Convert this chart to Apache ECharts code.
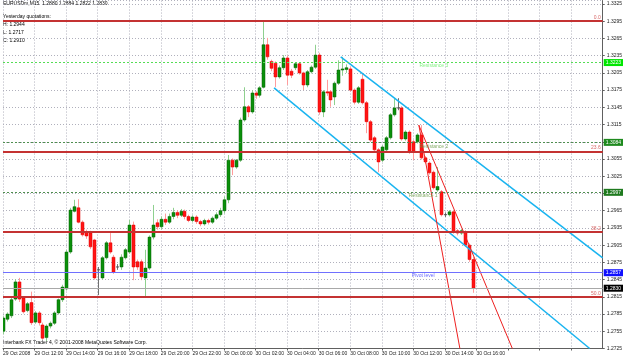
<!DOCTYPE html>
<html><head><meta charset="utf-8">
<script src="https://cdn.jsdelivr.net/npm/echarts@6/dist/echarts.min.js"></script>
<style>html,body{margin:0;padding:0;background:#fff}#c{width:625px;height:360px}</style>
</head><body><div id="c"></div>
<script>
// ---- data ----
const symbolTitle = 'EURUSDm,M15  1.2880 1.2884 1.2822 1.2830';
const infoLines = ['Yesterday quotations:', 'H: 1.2944', 'L: 1.2717', 'C: 1.2910'];
const copyright = 'Interbank FX Trader 4, © 2001-2008 MetaQuotes Software Corp.';
const timeLabels = ['29 Oct 2008','29 Oct 12:00','29 Oct 14:00','29 Oct 16:00','29 Oct 18:00','29 Oct 20:00','29 Oct 22:00','30 Oct 00:00','30 Oct 02:00','30 Oct 04:00','30 Oct 06:00','30 Oct 08:00','30 Oct 10:00','30 Oct 12:00','30 Oct 14:00','30 Oct 16:00'];
// [open, close, low, high] per 15-minute bar
const ohlc = [
[1.2755,1.2778,1.2750,1.2781],[1.2776,1.2785,1.2772,1.2788],[1.2782,1.2810,1.2778,1.2813],[1.2811,1.2841,1.2808,1.2846],
[1.2841,1.2811,1.2806,1.2848],[1.2813,1.2789,1.2786,1.2815],[1.2791,1.2803,1.2788,1.2806],[1.2805,1.2770,1.2766,1.2824],
[1.2771,1.2787,1.2768,1.2790],[1.2787,1.2770,1.2765,1.2790],[1.2766,1.2743,1.2740,1.2770],[1.2744,1.2764,1.2738,1.2767],
[1.2764,1.2769,1.2760,1.2772],[1.2769,1.2787,1.2766,1.2790],[1.2787,1.2810,1.2784,1.2812],[1.2810,1.2832,1.2806,1.2836],
[1.2829,1.2893,1.2826,1.2897],[1.2893,1.2966,1.2890,1.2970],[1.2964,1.2972,1.2962,1.2984],[1.2970,1.2945,1.2943,1.2985],
[1.2945,1.2923,1.2920,1.2948],[1.2928,1.2921,1.2916,1.2932],[1.2926,1.2902,1.2898,1.2930],[1.2914,1.2848,1.2845,1.2916],
[1.2862,1.2862,1.2818,1.2867],[1.2848,1.2883,1.2845,1.2886],[1.2883,1.2909,1.2880,1.2912],[1.2909,1.2893,1.2890,1.2926],
[1.2884,1.2858,1.2855,1.2888],[1.2867,1.2867,1.2862,1.2872],[1.2867,1.2884,1.2862,1.2889],[1.2883,1.2897,1.2880,1.2900],
[1.2893,1.2940,1.2890,1.2949],[1.2940,1.2867,1.2844,1.2946],[1.2876,1.2867,1.2862,1.2880],[1.2876,1.2850,1.2844,1.2880],
[1.2848,1.2865,1.2815,1.2897],[1.2865,1.2919,1.2862,1.2922],[1.2919,1.2940,1.2915,1.2975],[1.2944,1.2937,1.2932,1.2950],
[1.2937,1.2950,1.2932,1.2955],[1.2950,1.2945,1.2940,1.2960],[1.2945,1.2955,1.2942,1.2960],[1.2955,1.2962,1.2950,1.2970],
[1.2962,1.2957,1.2952,1.2966],[1.2957,1.2964,1.2954,1.2968],[1.2964,1.2955,1.2950,1.2967],[1.2955,1.2948,1.2945,1.2958],
[1.2948,1.2954,1.2945,1.2957],[1.2954,1.2946,1.2942,1.2957],[1.2946,1.2942,1.2938,1.2949],[1.2942,1.2948,1.2939,1.2951],
[1.2948,1.2945,1.2941,1.2951],[1.2945,1.2952,1.2942,1.2955],[1.2952,1.2958,1.2949,1.2962],[1.2958,1.2965,1.2954,1.2970],
[1.2965,1.2984,1.2960,1.2990],[1.2984,1.3053,1.2978,1.3062],[1.3053,1.3041,1.3027,1.3056],[1.3041,1.3053,1.3038,1.3055],
[1.3053,1.3123,1.3050,1.3127],[1.3123,1.3146,1.3120,1.3180],[1.3146,1.3137,1.3128,1.3149],[1.3137,1.3170,1.3134,1.3175],
[1.3170,1.3166,1.3160,1.3173],[1.3166,1.3179,1.3162,1.3182],[1.3180,1.3254,1.3178,1.3295],[1.3254,1.3233,1.3228,1.3266],
[1.3225,1.3213,1.3208,1.3228],[1.3222,1.3198,1.3180,1.3225],[1.3198,1.3214,1.3195,1.3218],[1.3214,1.3231,1.3210,1.3236],
[1.3231,1.3201,1.3184,1.3235],[1.3208,1.3201,1.3196,1.3212],[1.3214,1.3221,1.3210,1.3224],[1.3221,1.3205,1.3202,1.3224],
[1.3205,1.3184,1.3175,1.3207],[1.3184,1.3207,1.3180,1.3210],[1.3207,1.3215,1.3204,1.3218],[1.3215,1.3236,1.3212,1.3254],
[1.3236,1.3137,1.3132,1.3240],[1.3137,1.3172,1.3128,1.3175],[1.3172,1.3170,1.3165,1.3193],[1.3172,1.3158,1.3146,1.3175],
[1.3163,1.3187,1.3149,1.3190],[1.3187,1.3210,1.3184,1.3227],[1.3210,1.3212,1.3200,1.3233],[1.3211,1.3214,1.3205,1.3220],
[1.3212,1.3175,1.3172,1.3216],[1.3175,1.3154,1.3150,1.3178],[1.3154,1.3179,1.3151,1.3182],[1.3194,1.3153,1.3150,1.3205],
[1.3153,1.3120,1.3100,1.3156],[1.3120,1.3088,1.3085,1.3123],[1.3092,1.3071,1.3068,1.3095],[1.3071,1.3050,1.3032,1.3074],
[1.3053,1.3076,1.3050,1.3079],[1.3071,1.3092,1.3068,1.3095],[1.3092,1.3132,1.3089,1.3135],[1.3132,1.3144,1.3129,1.3161],
[1.3144,1.3144,1.3140,1.3161],[1.3144,1.3090,1.3087,1.3147],[1.3090,1.3102,1.3087,1.3105],[1.3102,1.3067,1.3064,1.3105],
[1.3085,1.3067,1.3053,1.3088],[1.3085,1.3097,1.3082,1.3100],[1.3097,1.3057,1.3054,1.3114],[1.3057,1.3050,1.3047,1.3060],
[1.3048,1.3031,1.3028,1.3051],[1.3032,1.3005,1.3002,1.3035],[1.3001,1.3007,1.2998,1.3041],[1.2998,1.2958,1.2955,1.3001],
[1.2958,1.2958,1.2954,1.2962],[1.2958,1.2963,1.2955,1.2966],[1.2963,1.2928,1.2925,1.2966],[1.2930,1.2926,1.2922,1.2933],
[1.2926,1.2930,1.2923,1.2933],[1.2928,1.2905,1.2902,1.2931],[1.2905,1.2880,1.2876,1.2908],[1.2880,1.2830,1.2822,1.2884]
];
const fibLevels = [1.3295, 1.3068, 1.2928, 1.2815];
const fibNames = ['0.0', '23.6', '38.2', '50.0'];
const resistanceLevels = [1.3223, 1.3084, 1.2997];
const resistanceNames = ['Resistance 3', 'Resistance 2', 'Resistance 1'];
const pivotLevel = 1.2857;
const bidPrice = 1.2830;
// trend lines: [[barIndex, price], [barIndex, price]]
const channelUpper = [[85.6, 1.3233], [152, 1.2883]];
const channelLower = [[68.7, 1.3179], [148.7, 1.2725]];
const fanSteep = [[105.4, 1.3114], [115.8, 1.2725]];
const fanShallow = [[105.4, 1.3114], [129.1, 1.2725]];
// text labels placed on chart: [barIndex, price, text]
const chartTexts = [[109.2, 1.3217, 'Resistance 3'], [109.2, 1.3077, 'Resistance 2'], [106.5, 1.2991, 'Resistance 1'], [106.5, 1.2852, 'Pivot level']];

// ---- chart ----
const FONT = 'Liberation Sans';
const XMIN = 0, XMAX = 152;
const chart = echarts.init(document.getElementById('c'), null, {renderer: 'canvas'});
const candleData = ohlc.map((d, i) => [i, d[0], d[1], d[2], d[3]]);

function hline(value, color, width, type, labelText, labelOpt) {
  const lbl = labelText ? Object.assign({show: true, formatter: labelText}, labelOpt) : {show: false};
  return [
    {coord: [XMIN, value], lineStyle: {color: color, width: width, type: type}, label: lbl},
    {coord: [XMAX, value]}
  ];
}
const boxLabel = (bg, fg) => ({position: 'end', distance: 1, color: fg, backgroundColor: bg, fontSize: 5, fontFamily: FONT, padding: [1, 2, 1, 2]});
const fibLabel = {position: 'insideEndTop', distance: [2, 1], color: '#d86868', fontSize: 5, fontFamily: FONT};

const markLines = [];
fibLevels.forEach((v, k) => markLines.push(hline(v, '#c43232', 2, 'solid', fibNames[k], fibLabel)));
markLines.push(hline(resistanceLevels[0], '#55dd55', 1, [2, 2], resistanceLevels[0].toFixed(4), boxLabel('#00e600', '#ffffff')));
markLines.push(hline(resistanceLevels[1], '#4f8f4f', 1, [2, 2], resistanceLevels[1].toFixed(4), boxLabel('#1e8a1e', '#ffffff')));
markLines.push(hline(resistanceLevels[2], '#4f8f4f', 1, [2, 2], resistanceLevels[2].toFixed(4), boxLabel('#1e7a1e', '#ffffff')));
markLines.push(hline(pivotLevel, '#7070ff', 1, 'solid', pivotLevel.toFixed(4), boxLabel('#1010ff', '#ffffff')));
markLines.push(hline(bidPrice, '#a8a8a8', 1, 'solid', bidPrice.toFixed(4), boxLabel('#000000', '#ffffff')));

const textColors = ['#66ee66', '#669944', '#669944', '#4444ff'];

const option = {
  animation: false,
  backgroundColor: '#ffffff',
  grid: {left: 2, right: 19, top: 0.55, bottom: 11.5, show: false},
  xAxis: {
    type: 'value', min: XMIN, max: XMAX, interval: 8,
    axisLine: {show: true, lineStyle: {color: '#606060', width: 1}},
    axisTick: {show: true, length: 2, lineStyle: {color: '#606060'}},
    axisLabel: {show: true, fontSize: 5, fontFamily: FONT, color: '#222', align: 'left', margin: 3, showMaxLabel: false,
      formatter: v => { const k = Math.round(v / 8); return timeLabels[k] || ''; }},
    splitLine: {show: true, lineStyle: {color: '#b0b0bc', type: [1, 2], width: 1}}
  },
  yAxis: {
    type: 'value', position: 'right', min: 1.2725, max: 1.3331, interval: 0.003, scale: true,
    axisLine: {show: true, onZero: false, lineStyle: {color: '#606060', width: 1}},
    axisTick: {show: true, length: 2, lineStyle: {color: '#606060'}},
    axisLabel: {show: true, fontSize: 5, fontFamily: FONT, color: '#222', margin: 4, showMaxLabel: false,
      formatter: v => v.toFixed(4)},
    splitLine: {show: true, lineStyle: {color: '#b0b0bc', type: [1, 2], width: 1}}
  },
  graphic: [
    {type: 'text', left: 3, top: 1, style: {text: symbolTitle, fontSize: 5, fontFamily: FONT, fill: '#000'}},
    {type: 'text', left: 3, top: 13, style: {text: infoLines.join('\n'), fontSize: 5, lineHeight: 8, fontFamily: FONT, fill: '#000'}},
    {type: 'text', left: 3, top: 340, style: {text: copyright, fontSize: 5, fontFamily: FONT, fill: '#000'}}
  ],
  series: [
    {type: 'line', data: channelUpper, showSymbol: false, lineStyle: {color: '#19b4f0', width: 1.5}, z: 3,
      markLine: {silent: true, symbol: 'none', animation: false, data: markLines}},
    {type: 'line', data: channelLower, showSymbol: false, lineStyle: {color: '#19b4f0', width: 1.5}, z: 3},
    {type: 'line', data: fanSteep, showSymbol: false, lineStyle: {color: '#ee2020', width: 1}, z: 3},
    {type: 'line', data: fanShallow, showSymbol: false, lineStyle: {color: '#ee2020', width: 1}, z: 3},
    {type: 'scatter', symbolSize: 0, z: 4,
      data: chartTexts.map((t, k) => ({value: [t[0], t[1]], label: {show: true, position: 'inside', formatter: t[2], color: textColors[k], fontSize: 5, fontFamily: FONT}}))},
    {type: 'custom', z: 2, clip: true,
      encode: {x: 0, y: [1, 2, 3, 4]},
      data: candleData,
      renderItem: (params, api) => {
        const i = api.value(0), o = api.value(1), c = api.value(2), l = api.value(3), h = api.value(4);
        const pO = api.coord([i, o]), pC = api.coord([i, c]), pL = api.coord([i, l]), pH = api.coord([i, h]);
        const x = Math.round(pO[0]) + 0.5;
        const flat = Math.abs(c - o) < 0.00002;
        const up = c > o;
        const wick = flat ? '#707070' : (up ? '#8fd08f' : '#ff9c9c');
        const body = up ? '#0a900a' : '#ff1414';
        const top = Math.min(pO[1], pC[1]), bot = Math.max(pO[1], pC[1]);
        const children = [
          {type: 'line', shape: {x1: x, y1: pH[1], x2: x, y2: pL[1]}, style: {stroke: wick, lineWidth: 1}}
        ];
        if (flat) children.push({type: 'line', shape: {x1: x - 1.5, y1: top, x2: x + 1.5, y2: top}, style: {stroke: '#505050', lineWidth: 1}});
        else children.push({type: 'rect', shape: {x: x - 1.5, y: top, width: 3, height: Math.max(bot - top, 1)}, style: {fill: body, stroke: up ? '#066006' : '#e00000', lineWidth: 0.5}});
        return {type: 'group', children: children};
      }
    }
  ]
};
chart.setOption(option);
</script></body></html>
